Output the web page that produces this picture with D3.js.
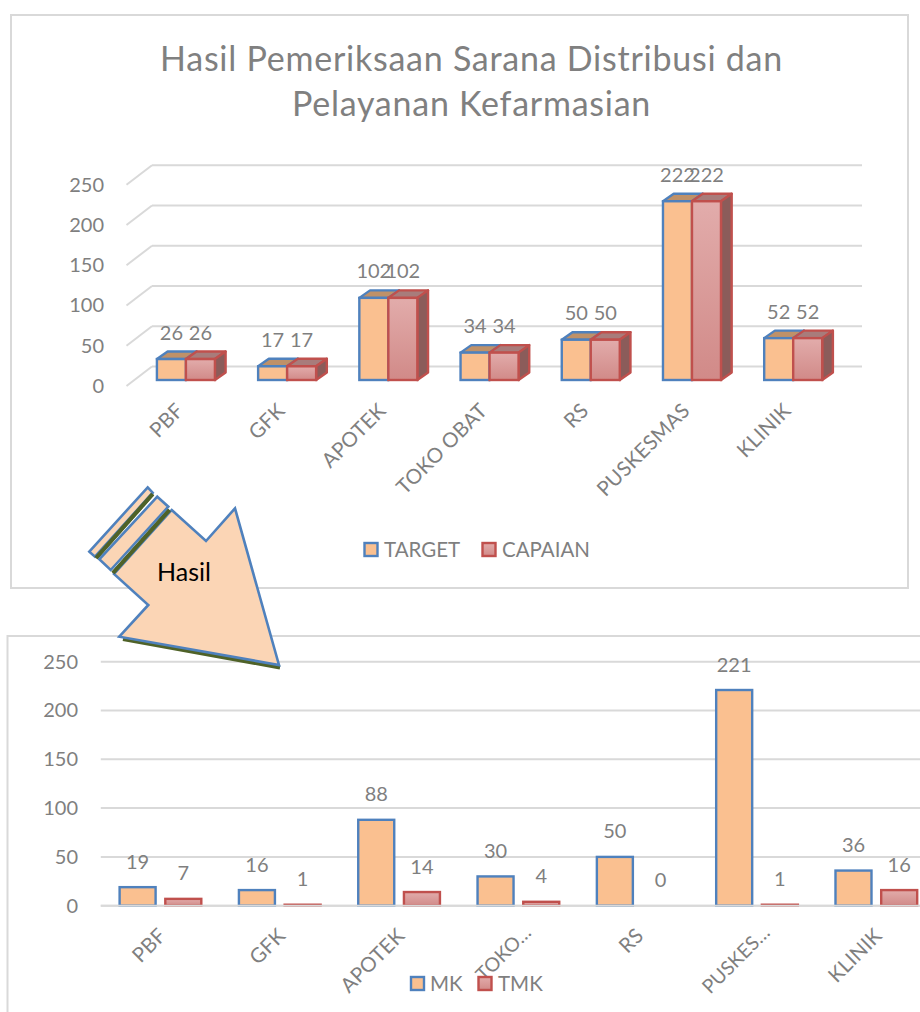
<!DOCTYPE html>
<html><head><meta charset="utf-8">
<script src="https://cdn.jsdelivr.net/npm/d3@7"></script>
<style>
html,body{margin:0;padding:0;background:#fff;overflow:hidden}
svg{display:block}
text{font-family:Lato,"Open Sans",sans-serif;fill:#7f7f7f}
</style></head><body>
<svg id="c" width="920" height="1012"></svg>
<script>
const titleLines = ["Hasil Pemeriksaan Sarana Distribusi dan", "Pelayanan Kefarmasian"];
const categories = ["PBF","GFK","APOTEK","TOKO OBAT","RS","PUSKESMAS","KLINIK"];
const target = [26,17,102,34,50,222,52];
const capaian = [26,17,102,34,50,222,52];
const seriesTop = ["TARGET","CAPAIAN"];
const categoriesBottom = ["PBF","GFK","APOTEK","TOKO…","RS","PUSKES…","KLINIK"];
const mk = [19,16,88,30,50,221,36];
const tmk = [7,1,14,4,0,1,16];
const seriesBottom = ["MK","TMK"];
const yTicks = [0,50,100,150,200,250];

const GRID="#d9d9d9", TXT="#7f7f7f", BLUE="#4f81bd", RED="#c0504d", ORANGE="#fac090";
const svg=d3.select("#c");
const defs=svg.append("defs");
const grad=defs.append("linearGradient").attr("id","redGrad").attr("x1",0).attr("y1",0).attr("x2",0).attr("y2",1);
grad.append("stop").attr("offset",0).attr("stop-color","#e2acab");
grad.append("stop").attr("offset",1).attr("stop-color","#d18a88");

// frames
svg.append("rect").attr("x",11).attr("y",15).attr("width",897).attr("height",573).attr("fill","#fff").attr("stroke",GRID).attr("stroke-width",2);
svg.append("rect").attr("x",7.5).attr("y",636).attr("width",930).attr("height",400).attr("fill","#fff").attr("stroke",GRID).attr("stroke-width",2);

// ---------- top chart (pseudo 3D)
svg.append("g").selectAll("text").data(titleLines).join("text")
  .attr("x",471.5).attr("y",(d,i)=>71+i*44.5).attr("text-anchor","middle")
  .attr("font-size",34).attr("letter-spacing",0.75).style("fill","#808080").text(d=>d);

const unitsTop=d3.scaleLinear().domain([0,250]).range([0,-201.3]);
const wallDx=25.5, wallDy=19.5, frontX=126.5, backX=frontX+wallDx, rightX=862;
const frontZero=386, backZero=frontZero-wallDy, barZero=380;
const gTop=svg.append("g");
gTop.append("g").selectAll("line.b").data(yTicks).join("line")
  .attr("x1",backX).attr("x2",rightX).attr("y1",d=>backZero+unitsTop(d)).attr("y2",d=>backZero+unitsTop(d))
  .attr("stroke",GRID).attr("stroke-width",2);
gTop.append("g").selectAll("line.s").data(yTicks).join("line")
  .attr("x1",frontX).attr("x2",backX).attr("y1",d=>frontZero+unitsTop(d)).attr("y2",d=>backZero+unitsTop(d))
  .attr("stroke",GRID).attr("stroke-width",2);
const yAxisTop=d3.scaleLinear().domain([0,250]).range([frontZero,frontZero-201.3]);
const axT=gTop.append("g").attr("transform","translate(104,0)").call(d3.axisLeft(yAxisTop).tickValues(yTicks).tickSize(0).tickPadding(0));
axT.select(".domain").remove();
axT.selectAll("text").attr("font-size",20).attr("font-family","Lato").style("fill",TXT);

const xTop=d3.scaleBand().domain(categories).range([135.3,843.8]);
const barW=29, dDx=10.7, dDy=7.5;
const barStart=c=>xTop(c)+xTop.bandwidth()/2-barW;
function bars3d(vals,offset,stroke,fill,topFill,sideFill){
  const g=gTop.append("g");
  const d=categories.map((c,i)=>({c,v:vals[i],x:barStart(c)+offset,y:barZero+unitsTop(vals[i])}));
  g.selectAll("path.top").data(d).join("path")
    .attr("d",o=>`M${o.x},${o.y}l${dDx},${-dDy}h${barW}l${-dDx},${dDy}z`)
    .attr("fill",topFill).attr("stroke",stroke).attr("stroke-width",2.4).attr("stroke-linejoin","round");
  g.selectAll("path.side").data(d).join("path")
    .attr("d",o=>`M${o.x+barW},${o.y}l${dDx},${-dDy}V${barZero-dDy}l${-dDx},${dDy}z`)
    .attr("fill",sideFill).attr("stroke",stroke).attr("stroke-width",2.4).attr("stroke-linejoin","round");
  g.selectAll("rect").data(d).join("rect")
    .attr("x",o=>o.x).attr("y",o=>o.y).attr("width",barW).attr("height",o=>barZero-o.y)
    .attr("fill",fill).attr("stroke",stroke).attr("stroke-width",2.4);
  return d;
}
const d1=bars3d(target,0,BLUE,ORANGE,"#bf9168","#bf9168");
const d2=bars3d(capaian,barW,RED,"url(#redGrad)","#a87c7b","#8b5c5a");
gTop.append("g").selectAll("text").data(d1.concat(d2)).join("text")
  .attr("x",o=>o.x+barW/2).attr("y",o=>o.y-19.5).attr("text-anchor","middle").attr("font-size",20).text(o=>o.v);
gTop.append("g").selectAll("text").data(categories).join("text")
  .attr("text-anchor","end").attr("font-size",20.5).attr("letter-spacing",0.2)
  .attr("transform",c=>`translate(${xTop(c)+xTop.bandwidth()/2-1},${412}) rotate(-45)`).text(c=>c);

function legend(items,xs,txs,y,fontSize){
  const g=svg.append("g");
  const fills=[ORANGE,"url(#redGrad)"], strokes=[BLUE,RED];
  g.selectAll("rect").data(items).join("rect")
    .attr("x",(d,i)=>xs[i]).attr("y",y).attr("width",13).attr("height",13)
    .attr("fill",(d,i)=>fills[i]).attr("stroke",(d,i)=>strokes[i]).attr("stroke-width",2.4);
  g.selectAll("text").data(items).join("text")
    .attr("x",(d,i)=>txs[i]).attr("y",y+13.5).attr("font-size",fontSize).text(d=>d);
}
legend(seriesTop,[364.5,482.5],[384,502],543,20.5);

// ---------- bottom chart
const yB=d3.scaleLinear().domain([0,250]).range([905.7,661.7]);
const xB=d3.scaleBand().domain(categoriesBottom).range([100.8,936]);
const gB=svg.append("g");
gB.append("g").selectAll("line").data(yTicks).join("line")
  .attr("x1",100.8).attr("x2",936).attr("y1",d=>yB(d)).attr("y2",d=>yB(d)).attr("stroke",GRID).attr("stroke-width",2);
const axB=gB.append("g").attr("transform","translate(78,0)").call(d3.axisLeft(yB).tickValues(yTicks).tickSize(0).tickPadding(0));
axB.select(".domain").remove();
axB.selectAll("text").attr("font-size",20).attr("font-family","Lato").style("fill",TXT);
const bW=36, gap=9.7;
function bars2d(vals,off,stroke,fill){
  const d=categoriesBottom.map((c,i)=>({c,v:vals[i],x:xB(c)+xB.bandwidth()/2+off,y:yB(vals[i])}));
  gB.append("g").selectAll("rect").data(d.filter(o=>o.v>0)).join("rect")
    .attr("x",o=>o.x).attr("y",o=>o.y).attr("width",bW).attr("height",o=>yB(0)-o.y)
    .attr("fill",fill).attr("stroke",stroke).attr("stroke-width",2.4);
  gB.append("g").selectAll("text").data(d).join("text")
    .attr("x",o=>o.x+bW/2).attr("y",o=>o.y-18.5).attr("text-anchor","middle").attr("font-size",20).text(o=>o.v);
}
bars2d(mk,-gap/2-bW,BLUE,ORANGE);
bars2d(tmk,gap/2,RED,"url(#redGrad)");
// redraw baseline on top of bar bottoms
gB.append("line").attr("x1",100.8).attr("x2",936).attr("y1",yB(0)).attr("y2",yB(0)).attr("stroke",GRID).attr("stroke-width",2);
const trunc=c=>c.includes("…");
gB.append("g").selectAll("text").data(categoriesBottom).join("text")
  .attr("text-anchor","end").attr("font-size",c=>trunc(c)?19.5:20.5).attr("letter-spacing",c=>trunc(c)?0:0.2)
  .attr("transform",c=>`translate(${xB(c)+xB.bandwidth()/2+(trunc(c)?14:7)},${trunc(c)?934:937}) rotate(-45)`).text(c=>c);
legend(seriesBottom,[411,478.5],[430,498],977,20.5);

// ---------- arrow annotation
const arrowMain=[[171.7,510],[206,541],[235,508.3],[279,665],[119.3,636.7],[148.3,605],[114,574]];
const stripeA=[[157.3,496.7],[168.3,506.7],[110.7,570],[99.3,559.3]];
const stripeB=[[147.7,487.3],[152.7,492.7],[95,556.7],[89.3,551.7]];
const shadows=[[[152.7,494],[96,558]],[[169.5,510],[113,573]],[[123,639],[280,667.5]]];
const gA=svg.append("g");
const poly=d3.line();
gA.selectAll("path.sh").data(shadows).join("path").attr("d",d=>poly(d)).attr("stroke","#4f6228").attr("stroke-width",4).attr("fill","none");
gA.selectAll("path.p").data([stripeB,stripeA,arrowMain]).join("path")
  .attr("d",d=>poly(d)+"Z").attr("fill","#fbd5b5").attr("stroke",BLUE).attr("stroke-width",2.6).attr("stroke-linejoin","miter");
gA.selectAll("path.sh2").data(shadows.slice(0,2)).join("path").attr("d",d=>poly(d)).attr("stroke","#4f6228").attr("stroke-width",4).attr("fill","none");
gA.append("text").attr("x",157).attr("y",581).attr("font-size",25).style("fill","#000").text("Hasil");
</script></body></html>
